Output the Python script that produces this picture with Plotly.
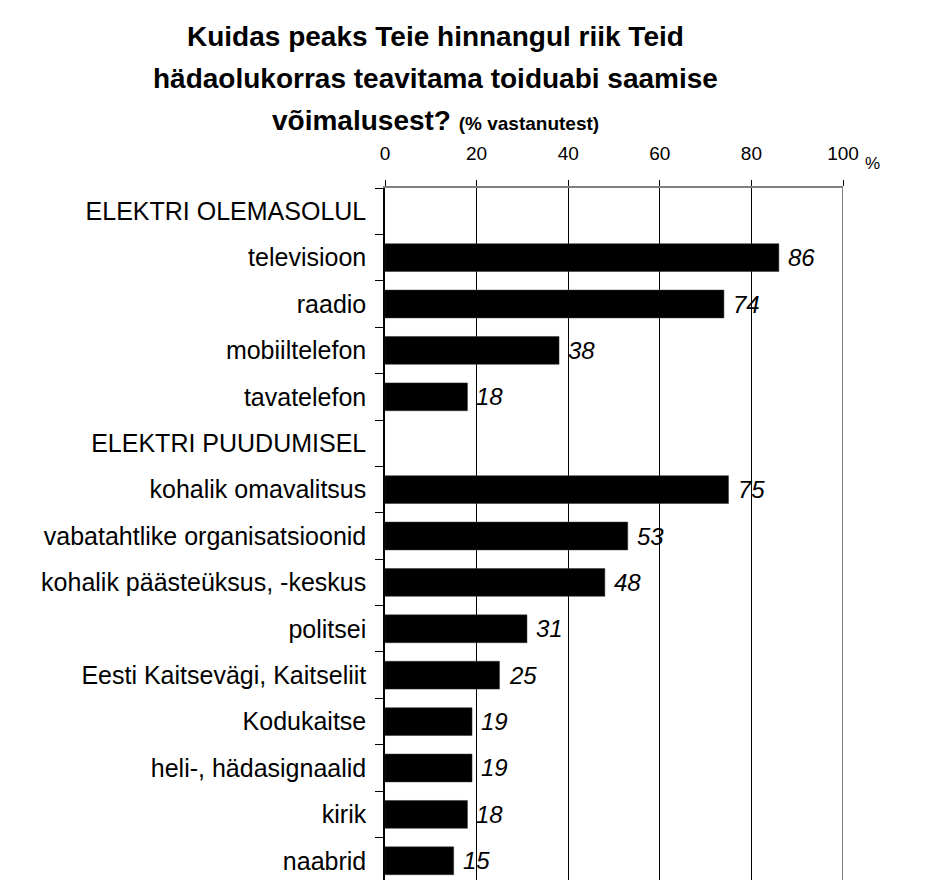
import plotly.graph_objects as go

# survey answers, % of respondents (header rows have no value)
categories = [
    "ELEKTRI OLEMASOLUL",
    "televisioon",
    "raadio",
    "mobiiltelefon",
    "tavatelefon",
    "ELEKTRI PUUDUMISEL",
    "kohalik omavalitsus",
    "vabatahtlike organisatsioonid",
    "kohalik päästeüksus, -keskus",
    "politsei",
    "Eesti Kaitsevägi, Kaitseliit",
    "Kodukaitse",
    "heli-, hädasignaalid",
    "kirik",
    "naabrid",
]
values = [None, 86, 74, 38, 18, None, 75, 53, 48, 31, 25, 19, 19, 18, 15]
x_ticks = [0, 20, 40, 60, 80, 100]

title_lines = [
    "Kuidas peaks Teie hinnangul riik Teid",
    "hädaolukorras teavitama toiduabi saamise",
    "võimalusest? <span style='font-size:19px'>(% vastanutest)</span>",
]

FONT = "Liberation Sans, Arial, sans-serif"

fig = go.Figure()
fig.add_trace(go.Bar(
    y=categories, x=values, orientation="h",
    marker=dict(color="black", line=dict(color="#333333", width=0.5)),
    width=0.6, showlegend=False, hoverinfo="skip",
))

# value labels at the end of each bar
for c, v in zip(categories, values):
    if v is None:
        continue
    fig.add_annotation(x=v, y=c, text=str(v), showarrow=False,
                       xanchor="left", xshift=7,
                       font=dict(family=FONT, size=24, color="black", style="italic"))

# title, line by line
for i, line in enumerate(title_lines):
    fig.add_annotation(x=0.111, y=1.219 - i * 0.0605, xref="paper", yref="paper",
                       text="<b>" + line + "</b>", showarrow=False,
                       xanchor="center", yanchor="middle",
                       font=dict(family=FONT, size=28, color="black"))

fig.add_annotation(x=1.065, y=1.035, xref="paper", yref="paper", text="%",
                   showarrow=False, xanchor="center", yanchor="middle",
                   font=dict(family=FONT, size=17, color="black"))

# right frame line (gray)
fig.add_shape(type="line", x0=100, x1=100, y0=0, y1=1, xref="x", yref="paper",
              line=dict(color="#808080", width=2))

# page body has an 8px margin, so the figure is a bit smaller than the window
fig.update_layout(
    width=933, height=872,
    margin=dict(l=377, r=98, t=180, b=0),
    plot_bgcolor="white", paper_bgcolor="white",
    font=dict(family=FONT, color="black"),
    bargap=0.4,
    xaxis=dict(
        side="top", range=[0, 100], tickvals=x_ticks,
        showgrid=True, gridcolor="black", gridwidth=1,
        showline=True, linecolor="#808080", linewidth=2,
        ticks="outside", ticklen=6, tickcolor="black",
        tickfont=dict(size=19), ticklabelstandoff=12,
        zeroline=False, fixedrange=True,
    ),
    yaxis=dict(
        type="category", categoryorder="array", categoryarray=categories,
        range=[14.414, -0.5],
        showline=True, linecolor="black", linewidth=1.5,
        ticks="outside", ticklen=8, tickcolor="black", tickson="boundaries",
        tickfont=dict(size=25), ticklabelstandoff=12,
        showgrid=False, zeroline=False,
    ),
)

fig.write_html("out.html")
